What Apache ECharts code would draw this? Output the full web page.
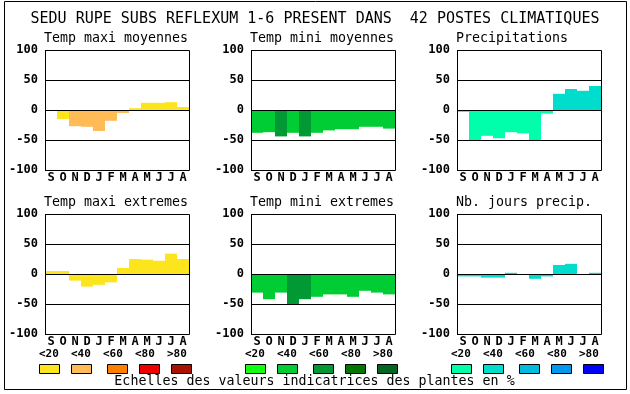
<!DOCTYPE html>
<html>
<head>
<meta charset="utf-8">
<script src="https://cdn.jsdelivr.net/npm/echarts@6/dist/echarts.min.js"></script>
<style>
html,body{margin:0;padding:0;background:#fff;}
#c{width:630px;height:394px;}
</style>
</head>
<body>
<div id="c"></div>
<script>
// ---- data ----
const months = ['S','O','N','D','J','F','M','A','M','J','J','A'];
const yTicks = [-100, -50, 0, 50, 100];
const classLabels = ['<20','<40','<60','<80','>80'];

const mainTitle = 'SEDU RUPE SUBS REFLEXUM 1-6 PRESENT DANS  42 POSTES CLIMATIQUES';
const footer = 'Echelles des valeurs indicatrices des plantes en %';

const panelTitles = ['Temp maxi moyennes','Temp mini moyennes','Precipitations',
                     'Temp maxi extremes','Temp mini extremes','Nb. jours precip.'];

const tmaxMoy      = [0, -15, -27, -28, -35, -18, -5, 3, 12, 12, 13, 5];
const tmaxMoyClass = [0, 0, 1, 1, 1, 1, 1, 0, 0, 0, 0, 0];

const tminMoy      = [-38, -37, -44, -38, -44, -38, -34, -32, -32, -28, -28, -31];
const tminMoyClass = [1, 1, 2, 1, 2, 1, 1, 1, 1, 1, 1, 1];

const precip       = [-3, -50, -43, -47, -37, -39, -50, -6, 27, 35, 32, 40];
const precipClass  = [0, 0, 0, 0, 0, 0, 0, 0, 1, 1, 1, 1];

const tmaxExt      = [5, 5, -11, -21, -18, -14, 10, 25, 24, 22, 34, 25];
const tmaxExtClass = [0, 0, 0, 0, 0, 0, 0, 0, 0, 0, 0, 0];

const tminExt      = [-31, -42, -31, -50, -42, -38, -34, -34, -38, -28, -31, -34];
const tminExtClass = [1, 1, 1, 2, 2, 1, 1, 1, 1, 1, 1, 1];

const nbJours      = [-4, -4, -6, -6, 2, 0, -8, -4, 15, 17, 0, 2];
const nbJoursClass = [1, 1, 1, 1, 1, 1, 1, 1, 1, 1, 1, 1];

// ---- styles ----
const warm  = ['#fce51c','#ffbb55','#ff8000','#ee0000','#aa1100'];
const green = ['#11ff11','#00cc33','#009933','#007700','#006622'];
const blue  = ['#00ffaa','#00ddcc','#00bbdd','#0099ee','#0000ff'];

const FONT = '"DejaVu Sans Mono", "Liberation Mono", monospace';

const panels = [
  {vals: tmaxMoy, cls: tmaxMoyClass, pal: warm,  left: 45,  top: 50},
  {vals: tminMoy, cls: tminMoyClass, pal: green, left: 251, top: 50},
  {vals: precip,  cls: precipClass,  pal: blue,  left: 457, top: 50},
  {vals: tmaxExt, cls: tmaxExtClass, pal: warm,  left: 45,  top: 214},
  {vals: tminExt, cls: tminExtClass, pal: green, left: 251, top: 214},
  {vals: nbJours, cls: nbJoursClass, pal: blue,  left: 457, top: 214}
];
const PW = 144, PH = 120;

const grids = [], xAxes = [], yAxes = [], series = [], graphics = [];

panels.forEach((p, i) => {
  grids.push({left: p.left, top: p.top, width: PW, height: PH, containLabel: false, show: false});
  xAxes.push({
    type: 'category', gridIndex: i, data: months,
    axisLine: {show: false}, axisTick: {show: false}, splitLine: {show: false},
    axisLabel: {interval: 0, margin: 2, color: '#000', fontFamily: FONT, fontWeight: 'bold', fontSize: 12}
  });
  yAxes.push({
    type: 'value', gridIndex: i, min: yTicks[0], max: yTicks[yTicks.length-1], interval: 50,
    z: 10,
    axisLine: {show: false}, axisTick: {show: false},
    splitLine: {show: true, lineStyle: {color: '#000', width: 1}},
    axisLabel: {margin: 7, color: '#000', fontFamily: FONT, fontWeight: 'bold', fontSize: 12}
  });
  series.push({
    type: 'bar', xAxisIndex: i, yAxisIndex: i,
    barWidth: '100%', barCategoryGap: 0,
    silent: true, animation: false,
    data: p.vals.map((v, k) => ({value: v, itemStyle: {color: p.pal[p.cls[k]]}}))
  });
  // plot frame
  graphics.push({
    type: 'rect', z: 100, silent: true,
    shape: {x: p.left + 0.5, y: p.top + 0.5, width: PW, height: PH},
    style: {fill: 'none', stroke: '#000', lineWidth: 1}
  });
  // panel title
  graphics.push({
    type: 'text', z: 100, x: p.left - 1, y: p.top - 11,
    style: {text: panelTitles[i], font: '13.3px ' + FONT, fill: '#000',
            align: 'left', verticalAlign: 'middle', textAlign: 'left', textVerticalAlign: 'middle'}
  });
});

// outer frame
graphics.push({
  type: 'rect', z: 100, silent: true,
  shape: {x: 4.5, y: 1.5, width: 622, height: 388},
  style: {fill: 'none', stroke: '#000', lineWidth: 1}
});
// main title
graphics.push({
  type: 'text', z: 100, x: 315, y: 19,
  style: {text: mainTitle, font: '15px ' + FONT, fill: '#000',
          align: 'center', verticalAlign: 'middle', textAlign: 'center', textVerticalAlign: 'middle'}
});
// footer
graphics.push({
  type: 'text', z: 100, x: 314.5, y: 382,
  style: {text: footer, font: '13.3px ' + FONT, fill: '#000',
          align: 'center', verticalAlign: 'middle', textAlign: 'center', textVerticalAlign: 'middle'}
});
// legends
[[39, warm], [245, green], [451, blue]].forEach(([ax, pal]) => {
  classLabels.forEach((lab, j) => {
    graphics.push({
      type: 'text', z: 100, x: ax + j * 32, y: 354,
      style: {text: lab, font: 'bold 11px ' + FONT, fill: '#000',
              align: 'left', verticalAlign: 'middle', textAlign: 'left', textVerticalAlign: 'middle'}
    });
    graphics.push({
      type: 'rect', z: 100, silent: true,
      shape: {x: ax + j * 32 + (j >= 2 ? 4 : 0) + 0.5, y: 364.5, width: 20, height: 9},
      style: {fill: pal[j], stroke: '#000', lineWidth: 1}
    });
  });
});

const chart = echarts.init(document.getElementById('c'), null, {renderer: 'canvas'});
chart.setOption({
  animation: false,
  backgroundColor: '#fff',
  grid: grids, xAxis: xAxes, yAxis: yAxes, series: series,
  graphic: {elements: graphics}
});
</script>
</body>
</html>
